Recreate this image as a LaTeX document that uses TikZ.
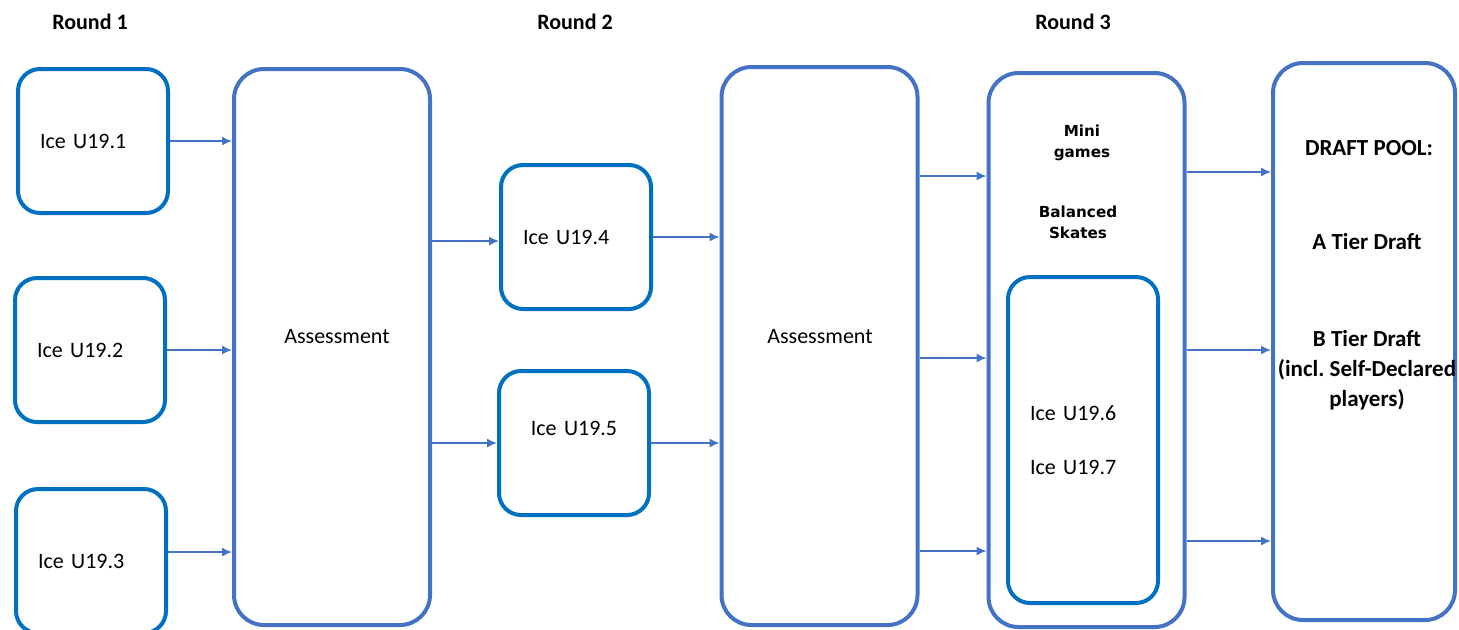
\documentclass[tikz,border=0pt]{standalone}
\usepackage{fontspec}
\setmainfont{Carlito}
\newfontfamily\gamefont{DejaVu Sans}
\usetikzlibrary{arrows.meta,positioning}
\definecolor{iceblue}{RGB}{0,112,192}
\definecolor{stageblue}{RGB}{68,114,196}
\frenchspacing

\begin{document}
\begin{tikzpicture}
    [ x=0.5pt, y=-0.5pt
    , font=\fontsize{11}{13}\selectfont
    , ice/.style={draw=iceblue, line width=2pt, rounded corners=11pt,
        minimum width=75pt, minimum height=72pt, inner xsep=11pt,
        text width=53pt, align=left}
    , stage/.style={draw=stageblue, line width=2pt, rounded corners=15pt,
        minimum width=98pt, minimum height=278pt}
    , title/.style={font=\fontsize{11}{13}\selectfont\bfseries}
    , game/.style={font=\gamefont\fontsize{7.6}{10.5}\selectfont\bfseries, align=center}
    , pool/.style={font=\fontsize{11.5}{15}\selectfont\bfseries, align=center}
    , arr/.style={draw=stageblue, line width=0.75pt, -{Latex[length=5pt,width=4.5pt]}}
    ]
\useasboundingbox (0,0) rectangle (1459,629);

\node[title] (round1) at (90,22) {Round 1};
\node[title] (round2) at (575,22) {Round 2};
\node[title] (round3) at (1073,22) {Round 3};

% round 1
\node[ice] (ice1) at (93,141) {Ice U19.1};
\node[ice] (ice2) at (90,350) {Ice U19.2};
\node[ice] (ice3) at (91,561) {Ice U19.3};
\node[stage] (asm1) at (332,347) {};
\node (asm1text) at (337,337) {Assessment};

% round 2
\node[ice] (ice4) at (576,237) {Ice U19.4};
\node[ice, align=center, text depth=15pt] (ice5) at (574,443) {Ice U19.5};
\node[stage, minimum height=279pt] (asm2) at (819.5,346) {};
\node (asm2text) at (820,337) {Assessment};

% round 3
\node[stage, minimum height=277pt] (games) at (1086.5,350) {};
\node[game] (mini) at (1082,143) {Mini\\games};
\node[game] (skates) at (1078,222) {Balanced\\Skates};
\node[ice, minimum height=163pt] (ice67) at (1083,440)
    {Ice U19.6\\[14pt]Ice U19.7};

% draft
\node[stage, minimum width=91pt, minimum height=278.5pt] (draft) at (1364,341.5) {};
\node[pool] (poolhead) at (1369,148) {DRAFT POOL:};
\node[pool] (atier) at (1367,242) {A Tier Draft};
\node[pool] (btier) at (1367,370) {B Tier Draft\\(incl. Self-Declared\\players)};

\draw[arr] (ice1.east) -- (ice1.east -| asm1.west);
\draw[arr] (ice2.east) -- (ice2.east -| asm1.west);
\draw[arr] ([yshift=4.5pt]ice3.east) -- ([yshift=4.5pt]ice3.east -| asm1.west);
\draw[arr] ([yshift=-2pt]ice4.west -| asm1.east) -- ([yshift=-2pt]ice4.west);
\draw[arr] (ice5.west -| asm1.east) -- (ice5.west);
\draw[arr] (ice4.east) -- (ice4.east -| asm2.west);
\draw[arr] (ice5.east) -- (ice5.east -| asm2.west);
\foreach \y in {176,358,551}
    \draw[arr] (asm2.east |- 0,\y) -- (games.west |- 0,\y);
\foreach \y in {172,350,541}
    \draw[arr] (games.east |- 0,\y) -- (draft.west |- 0,\y);

\end{tikzpicture}
\end{document}
